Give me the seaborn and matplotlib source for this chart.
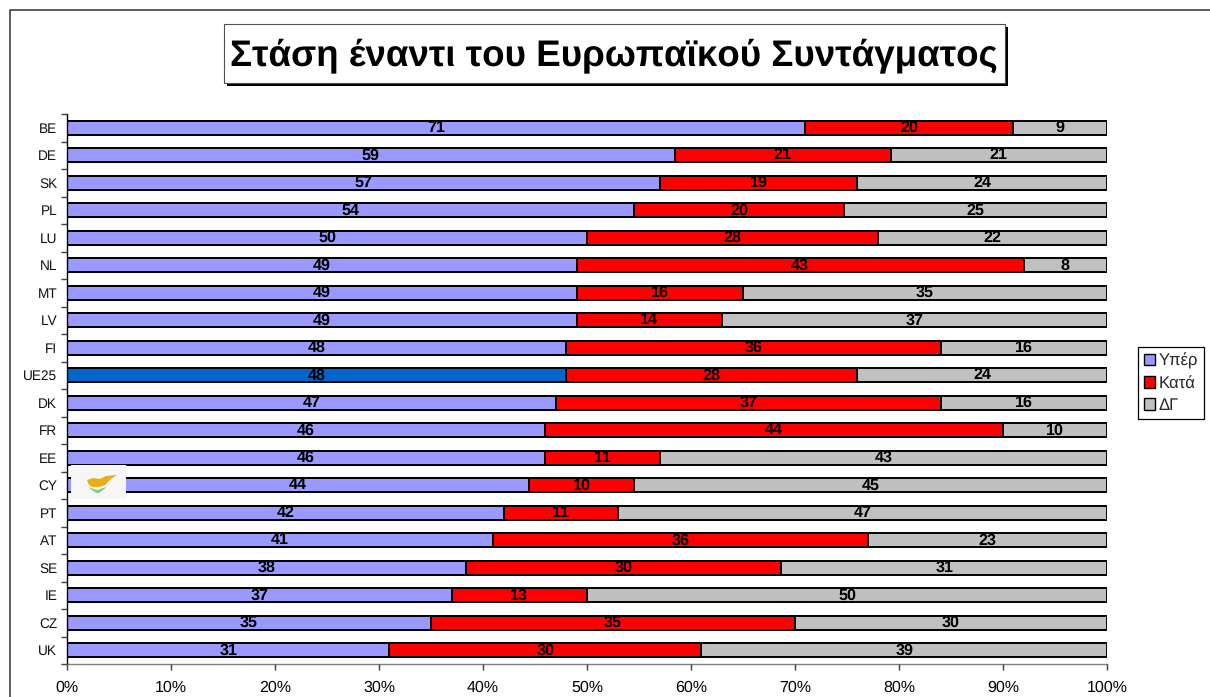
import matplotlib
matplotlib.use("Agg")
import matplotlib.pyplot as plt
import numpy as np
import pandas as pd
import seaborn as sns
from matplotlib.patches import Patch, Rectangle, Polygon
from matplotlib.ticker import PercentFormatter

countries = ["BE","DE","SK","PL","LU","NL","MT","LV","FI","UE25","DK","FR","EE","CY","PT","AT","SE","IE","CZ","UK"]
yes = [71,59,57,54,50,49,49,49,48,48,47,46,46,44,42,41,38,37,35,31]
no = [20,21,19,20,28,43,16,14,36,28,37,44,11,10,11,36,30,13,35,30]
dk = [9,21,24,25,22,8,35,37,16,24,16,10,43,45,47,23,31,50,30,39]
series_names = ["Υπέρ","Κατά","ΔΓ"]
title = "Στάση έναντι του Ευρωπαϊκού Συντάγματος"

C_YES, C_NO, C_DK, C_EU = "#9999FF", "#FF0000", "#C0C0C0", "#0066CC"

sns.set_theme(style="white")
plt.rcParams["font.family"] = ["Liberation Sans", "DejaVu Sans"]
plt.rcParams["text.hinting"] = "no_hinting"
plt.rcParams["text.hinting_factor"] = 8
plt.rcParams["text.kerning_factor"] = 6

W, H = 1210, 697
fig = plt.figure(figsize=(W/100, H/100), dpi=100, facecolor="white")
ax = fig.add_axes([67/W, 1-664/H, (1107-67)/W, (664-114)/H])

df = pd.DataFrame({"c": countries, "yes": yes, "no": no, "dk": dk})
tot = df[["yes","no","dk"]].sum(axis=1)
df["s1"] = df["yes"]/tot*100
df["s2"] = (df["yes"]+df["no"])/tot*100
df["s3"] = 100.0

bar_kw = dict(orient="h", width=0.5, edgecolor="black", linewidth=1.4, ax=ax, saturation=1, order=countries)
sns.barplot(data=df, x="s3", y="c", color=C_DK, **bar_kw)
sns.barplot(data=df, x="s2", y="c", color=C_NO, **bar_kw)
pal = {c: (C_EU if c == "UE25" else C_YES) for c in countries}
sns.barplot(data=df, x="s1", y="c", hue="c", palette=pal, legend=False, **bar_kw)

for i, r in df.iterrows():
    for lo, hi, v in [(0, r.s1, r.yes), (r.s1, r.s2, r.no), (r.s2, 100, r.dk)]:
        ax.text((lo+hi)/2, i, str(v), ha="center", va="center", fontsize=11.6, fontweight="bold", color="black", zorder=6)

ax.set_xlim(0, 100)
ax.set_ylim(len(countries)-0.5, -0.5)
ax.set_xlabel(""); ax.set_ylabel("")
ax.set_xticks(np.arange(0, 101, 10))
ax.xaxis.set_major_formatter(PercentFormatter(decimals=0))
ax.tick_params(axis="x", length=4, width=1, color="#404040", labelsize=11.5, labelcolor="black", pad=8, bottom=True)
ax.set_yticks(range(len(countries)))
ax.set_yticklabels(countries)
ax.set_yticks(np.arange(-0.5, len(countries)), minor=True)
ax.tick_params(axis="y", which="major", length=0, labelsize=9.8, labelcolor="#111111", pad=7)
ax.tick_params(axis="y", which="minor", length=4, width=1, color="#404040", left=True)
for s in ["top", "right"]:
    ax.spines[s].set_visible(False)
ax.spines["left"].set_color("black"); ax.spines["left"].set_linewidth(1)
ax.spines["bottom"].set_color("#808080"); ax.spines["bottom"].set_linewidth(1)
ax.set_axisbelow(False)

def px(x0, y0, x1, y1, **kw):
    fig.add_artist(Rectangle((x0/W, 1-y1/H), (x1-x0)/W, (y1-y0)/H, transform=fig.transFigure, **kw))

# outer frame
fig.add_artist(plt.Line2D([9.5/W, 9.5/W, 1], [0, 1-10/H, 1-10/H], color="#303030", lw=1.1))

# title box
px(227, 27, 1008, 86, facecolor="black", edgecolor="none", zorder=5)
px(224, 24, 1005, 83, facecolor="white", edgecolor="#505050", linewidth=0.8, zorder=6)
fig.text(614/W, 1-65/H, title, ha="center", va="baseline", fontsize=26.5, fontweight="bold", color="black", zorder=7)

# flag
px(71, 465, 126, 499, facecolor="#F6F6F6", edgecolor="none", zorder=8)
isl = [(87,480),(93,478),(100,479),(106,476),(117,475),(111,479),(108,482),(105,485),(99,487),(92,487),(89,485)]
fig.add_artist(Polygon([(x/W, 1-y/H) for x, y in isl], transform=fig.transFigure, facecolor="#E9AE17", edgecolor="none", zorder=9))
br = [(88,487),(91,488),(97,490),(103,488),(107,487),(99,493),(96,493)]
fig.add_artist(Polygon([(x/W, 1-y/H) for x, y in br], transform=fig.transFigure, facecolor="#8CC78C", edgecolor="none", zorder=9))

# legend
handles = [Patch(facecolor=c, edgecolor="black", linewidth=1) for c in (C_YES, C_NO, C_DK)]
leg = fig.legend(handles, series_names, loc="upper left", bbox_to_anchor=(1138/W, 1-347/H), fontsize=12,
                 frameon=True, fancybox=False, edgecolor="black", framealpha=1, handlelength=0.67, handleheight=0.67,
                 handletextpad=0.22, labelspacing=0.38, borderpad=0.35, borderaxespad=0)
leg.get_frame().set_linewidth(0.9)
fig.savefig("out.png", dpi=100, facecolor="white")
